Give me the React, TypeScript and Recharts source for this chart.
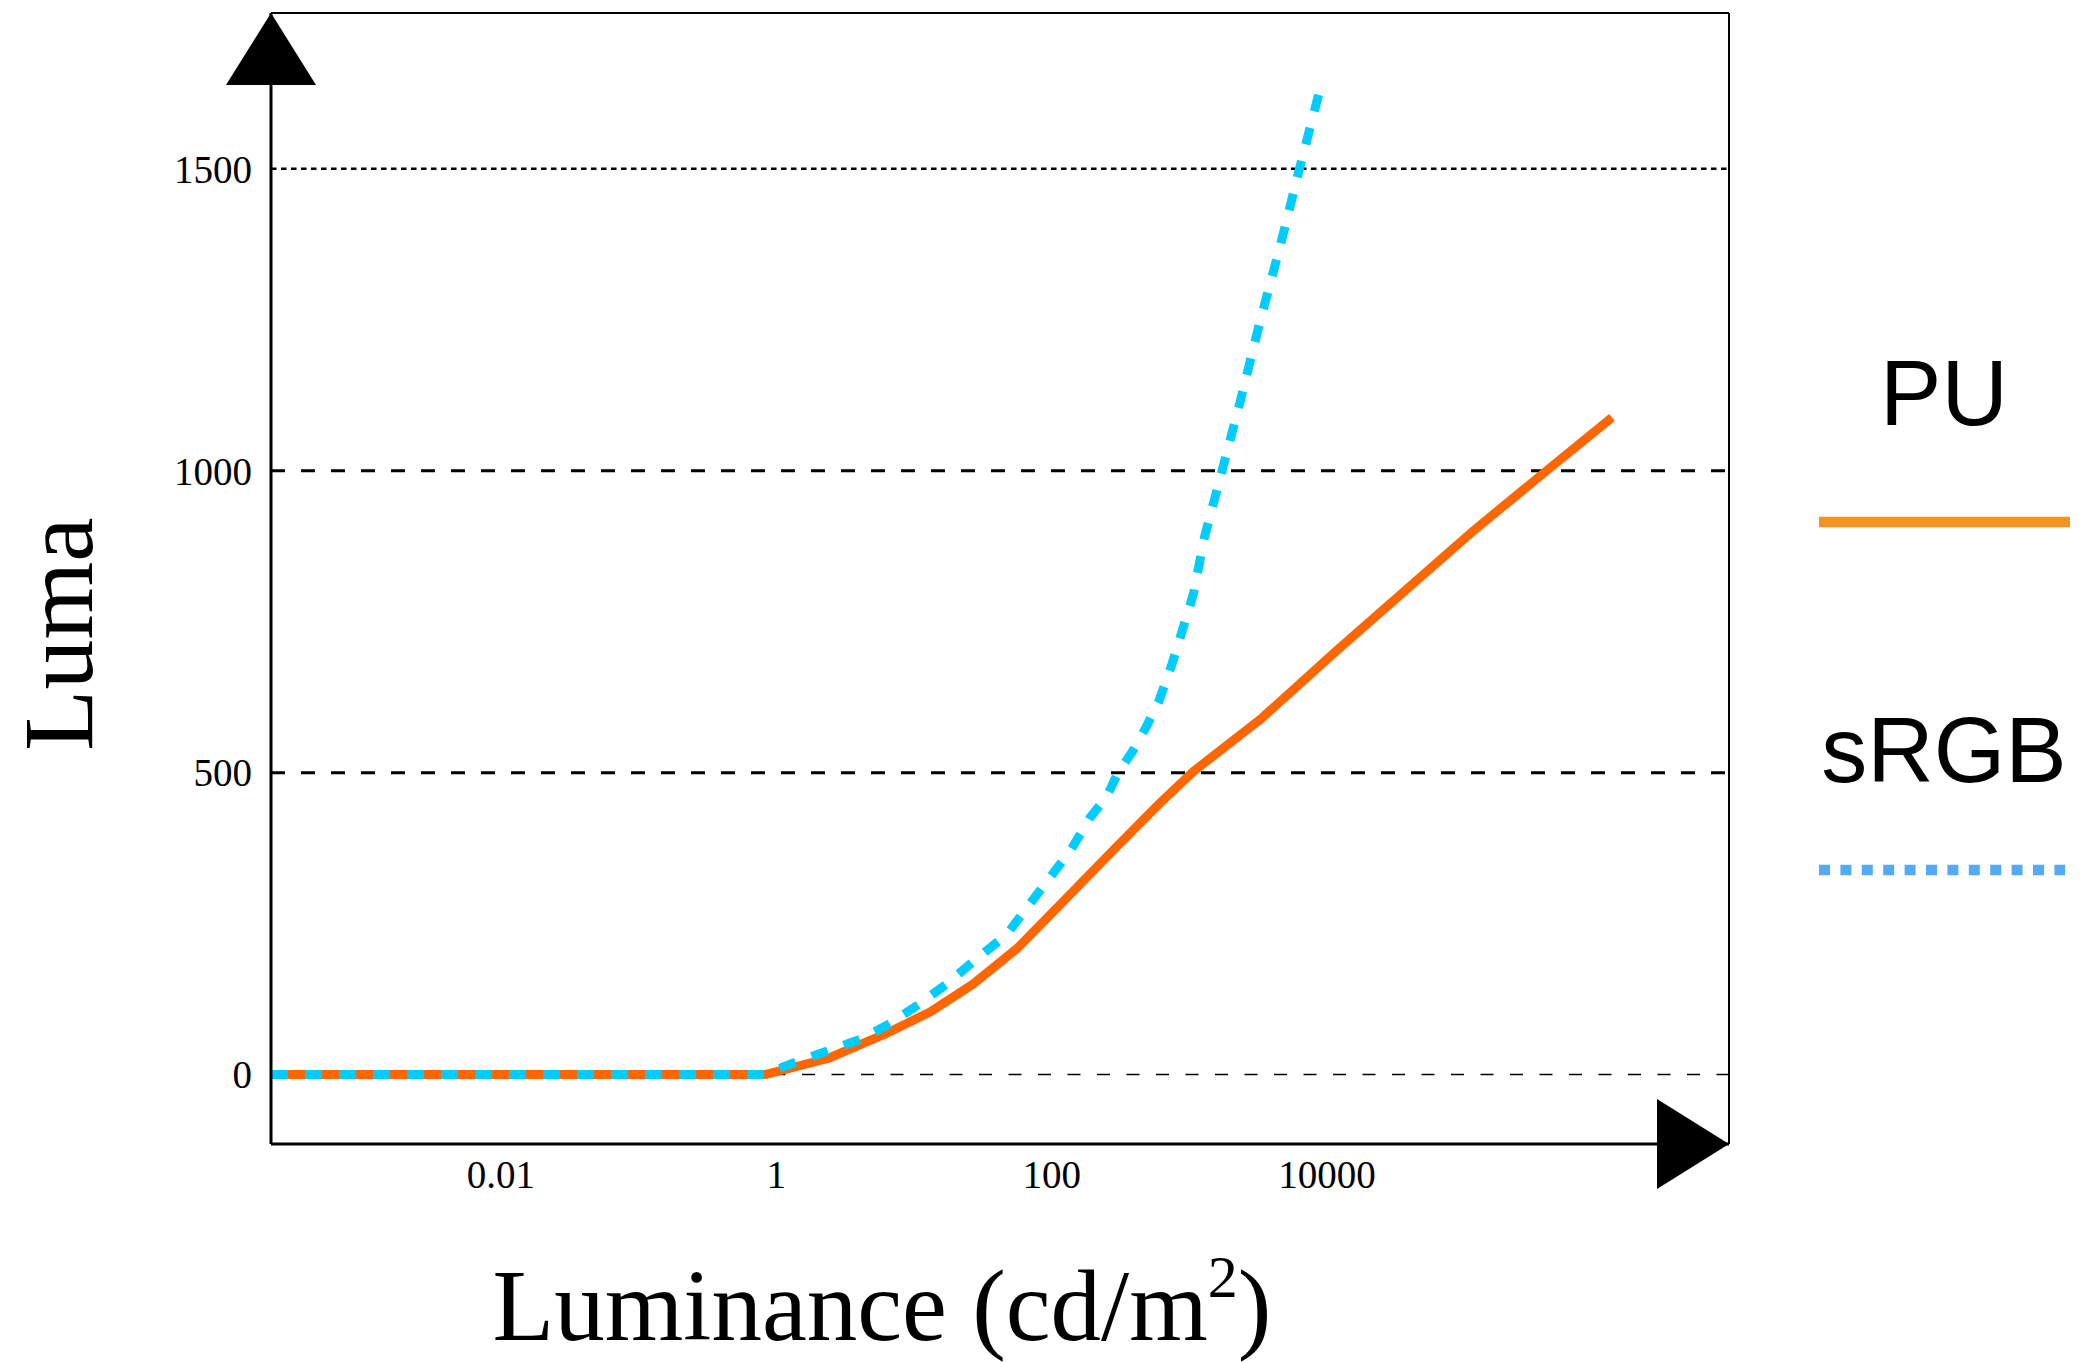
import { Legend, Line, LineChart, ReferenceDot, ReferenceLine, XAxis, YAxis } from 'recharts';

// x = log10 of luminance (cd/m^2), y = luma
const puLogLum = [-3.67, -0.08, 0.38, 0.8, 1.12, 1.43, 1.75, 2.09, 2.45, 2.78, 3.03, 3.53, 4.07, 5.05, 5.6, 6.07];
const puLuma = [0, 0, 27, 68, 104, 150, 209, 288, 372, 448, 502, 591, 702, 898, 1001, 1088];

const srgbLogLum = [
  -3.67, -0.08, 0.11, 0.36, 0.62, 0.83, 1.06, 1.26, 1.45, 1.67, 1.81, 1.97, 2.14, 2.28, 2.4,
  2.48, 2.59, 2.69, 2.78, 2.87, 2.95, 3.03, 3.11, 3.23, 3.37, 3.51, 3.66, 3.8, 3.96,
];
const srgbLuma = [
  0, 0, 18, 38, 59, 85, 120, 154, 191, 231, 273, 321, 372, 426, 460,
  499, 536, 577, 619, 677, 736, 796, 890, 993, 1115, 1244, 1372, 1500, 1641,
];

const xTicks = [-2, 0, 2, 4];
const xTickLabels = ['0.01', '1', '100', '10000'];
const yTicks = [0, 500, 1000, 1500];

const X_MIN = -3.67;
const X_MAX = 6.92;
const Y_MIN = -115;
const Y_MAX = 1758;

const puData = puLogLum.map((x, i) => ({ x, y: puLuma[i] }));
const srgbData = srgbLogLum.map((x, i) => ({ x, y: srgbLuma[i] }));

const SERIF = '"Liberation Serif", "Times New Roman", serif';
const SANS = '"Liberation Sans", Arial, sans-serif';

function gridStyle(v: number) {
  if (v === 0) return { strokeWidth: 1.5, strokeDasharray: '13 16.5' };
  if (v === 1500) return { strokeWidth: 2.6, strokeDasharray: '5.5 4.5' };
  return { strokeWidth: 3, strokeDasharray: '14 16' };
}

const legendRows: Record<string, { base: number; line: number; x2: number; color: string; dash?: string }> = {
  PU: { base: 95, line: 192, x2: 270, color: '#F39323' },
  sRGB: { base: 452, line: 540, x2: 265, color: '#55AAF5', dash: '11 10.4' },
};

function LegendBox(props: any) {
  const items = props.payload ?? [];
  return (
    <svg width={297} height={600} style={{ display: 'block', overflow: 'visible' }}>
      {items.map((p: any) => {
        const r = legendRows[p.value];
        if (!r) return null;
        return (
          <g key={p.value}>
            <text x={144} y={r.base} textAnchor="middle" fontSize={92} fontFamily={SANS} fill="#000">
              {p.value}
            </text>
            <line x1={19} x2={r.x2} y1={r.line} y2={r.line} stroke={r.color} strokeWidth={10.5} strokeDasharray={r.dash} />
          </g>
        );
      })}
    </svg>
  );
}

const UpArrow = (p: any) => (
  <polygon points={`${p.cx},${p.cy} ${p.cx - 45},${p.cy + 72} ${p.cx + 45},${p.cy + 72}`} fill="#000" />
);
const RightArrow = (p: any) => (
  <polygon points={`${p.cx},${p.cy} ${p.cx - 72},${p.cy - 45} ${p.cx - 72},${p.cy + 45}`} fill="#000" />
);

export default function App() {
  return (
    <div style={{ position: 'absolute', left: 0, top: 0, width: 2097, height: 1362, background: '#fff', fontFamily: SERIF }}>
      <LineChart width={2097} height={1362} margin={{ top: 13, right: 368, bottom: 0, left: 0 }}>
        <XAxis
          type="number"
          dataKey="x"
          domain={[X_MIN, X_MAX]}
          allowDataOverflow
          ticks={xTicks}
          tickFormatter={(v: number) => xTickLabels[xTicks.indexOf(v)] ?? ''}
          height={218}
          tickLine={false}
          tickSize={0}
          tickMargin={16}
          axisLine={{ stroke: '#000', strokeWidth: 3 }}
          tick={{ fontSize: 39, fill: '#000', fontFamily: SERIF }}
        />
        <YAxis
          type="number"
          domain={[Y_MIN, Y_MAX]}
          allowDataOverflow
          ticks={yTicks}
          width={271}
          tickLine={false}
          tickSize={0}
          tickMargin={19}
          axisLine={{ stroke: '#000', strokeWidth: 3 }}
          tick={{ fontSize: 39, fill: '#000', fontFamily: SERIF }}
        />
        {yTicks.map((v) => (
          <ReferenceLine key={v} y={v} stroke="#000" ifOverflow="visible" {...gridStyle(v)} />
        ))}
        <ReferenceLine y={Y_MAX} stroke="#000" strokeWidth={2} ifOverflow="visible" />
        <ReferenceLine x={X_MAX} stroke="#000" strokeWidth={2} ifOverflow="visible" />
        <Line
          data={puData}
          dataKey="y"
          name="PU"
          type="linear"
          stroke="#FF6600"
          strokeWidth={9}
          dot={false}
          activeDot={false}
          isAnimationActive={false}
        />
        <Line
          data={srgbData}
          dataKey="y"
          name="sRGB"
          type="linear"
          stroke="#00CCFF"
          strokeWidth={9}
          strokeDasharray="17 17"
          dot={false}
          activeDot={false}
          isAnimationActive={false}
        />
        <ReferenceDot x={X_MIN} y={Y_MAX} ifOverflow="visible" shape={UpArrow} />
        <ReferenceDot x={X_MAX} y={Y_MIN} ifOverflow="visible" shape={RightArrow} />
        <Legend
          layout="vertical"
          align="center"
          verticalAlign="middle"
          content={LegendBox}
          wrapperStyle={{ left: 1800, top: 330, width: 297, height: 600 }}
        />
        <text x={92} y={634} transform="rotate(-90 92 634)" textAnchor="middle" fontSize={100} fontFamily={SERIF} fill="#000">
          Luma
        </text>
        <text x={882} y={1340} textAnchor="middle" fontSize={101} fontFamily={SERIF} fill="#000">
          Luminance (cd/m
          <tspan fontSize={60} dy={-43}>2</tspan>
          <tspan dy={43}>)</tspan>
        </text>
      </LineChart>
    </div>
  );
}
